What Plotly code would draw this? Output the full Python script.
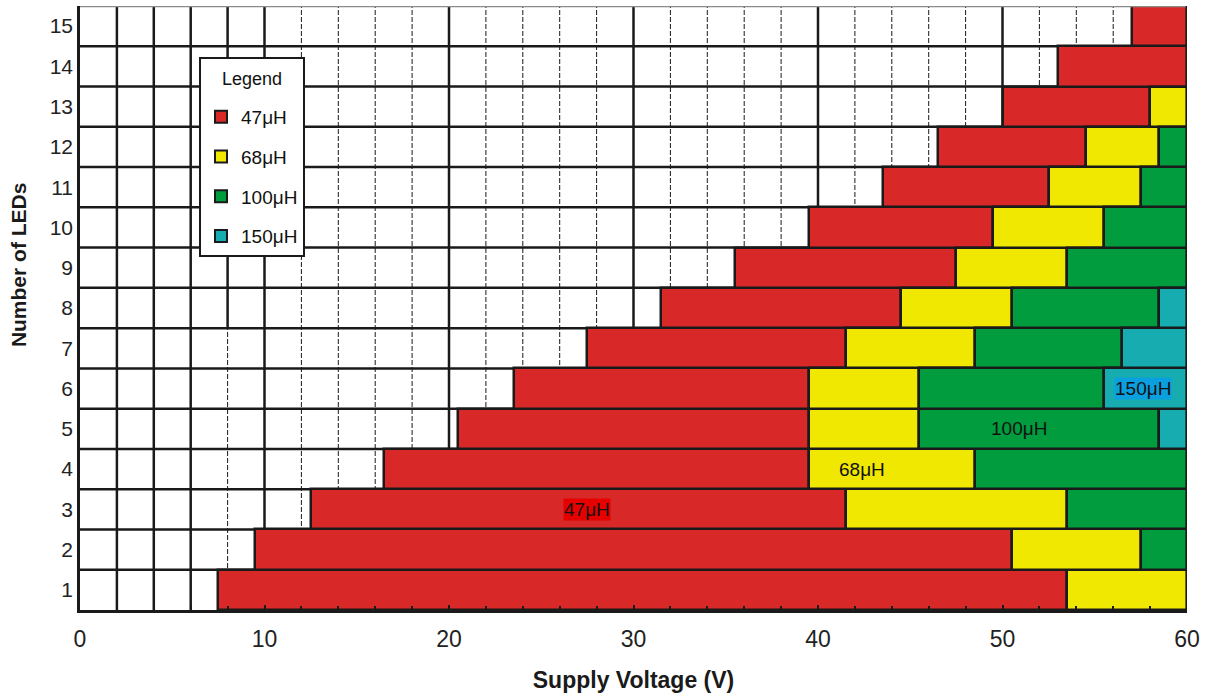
import plotly.graph_objects as go

# ---------------- data ----------------
leds = list(range(1, 16))

# 47uH region (red): start / end voltage for each LED count
red_rows = list(range(1, 16))
red_from = [7.5, 9.5, 12.5, 16.5, 20.5, 23.5, 27.5, 31.5, 35.5, 39.5, 43.5, 46.5, 50, 53, 57]
red_to = [53.5, 50.5, 41.5, 39.5, 39.5, 39.5, 41.5, 44.5, 47.5, 49.5, 52.5, 54.5, 58, 60, 60]

# 68uH region (yellow)
yellow_rows = list(range(1, 14))
yellow_from = [53.5, 50.5, 41.5, 39.5, 39.5, 39.5, 41.5, 44.5, 47.5, 49.5, 52.5, 54.5, 58]
yellow_to = [60, 57.5, 53.5, 48.5, 45.5, 45.5, 48.5, 50.5, 53.5, 55.5, 57.5, 58.5, 60]

# 100uH region (green)
green_rows = list(range(2, 13))
green_from = [57.5, 53.5, 48.5, 45.5, 45.5, 48.5, 50.5, 53.5, 55.5, 57.5, 58.5]
green_to = [60, 60, 60, 58.5, 55.5, 56.5, 58.5, 60, 60, 60, 60]

# 150uH region (teal)
teal_rows = [5, 6, 7, 8]
teal_from = [58.5, 55.5, 56.5, 58.5]
teal_to = [60, 60, 60, 60]

series_names = ["47μH", "68μH", "100μH", "150μH"]
series_colors = ["#d92828", "#f0e800", "#009c3d", "#17adb0"]

x_ticks = [0, 10, 20, 30, 40, 50, 60]
x_grid = list(range(2, 60, 2))
y_edges = [v + 0.5 for v in range(0, 16)]

# in-chart labels: (x, y, text, background)
label_x = [27.5, 42.4, 50.9, 57.6]
label_y = [3, 4, 5, 6]
label_bg = ["#e60000", "rgba(0,0,0,0)", "rgba(0,0,0,0)", "#0aa0e0"]

FONT = "Liberation Sans, Arial, sans-serif"

fig = go.Figure()

all_series = [
    (red_rows, red_from, red_to),
    (yellow_rows, yellow_from, yellow_to),
    (green_rows, green_from, green_to),
    (teal_rows, teal_from, teal_to),
]
for i, (rows, s, e) in enumerate(all_series):
    fig.add_trace(go.Bar(
        y=rows,
        x=[b - a for a, b in zip(s, e)],
        base=s,
        orientation="h",
        width=1,
        name=series_names[i],
        legendgroup=series_names[i],
        marker=dict(color=series_colors[i], line=dict(color="#1a1a1a", width=2.5)),
    ))

DASH = "5px,2px"
# grid lines (drawn below the bars)
shapes = []
for gx in x_grid:
    if gx % 10 == 0 or gx < 8:
        shapes.append(dict(type="line", xref="x", yref="y", x0=gx, x1=gx, y0=0.5, y1=15.5,
                           line=dict(color="#1a1a1a", width=2.5), layer="below"))
    elif gx == 8:
        shapes.append(dict(type="line", xref="x", yref="y", x0=gx, x1=gx, y0=7.5, y1=15.5,
                           line=dict(color="#1a1a1a", width=2.5), layer="below"))
        shapes.append(dict(type="line", xref="x", yref="y", x0=gx, x1=gx, y0=0.5, y1=7.5,
                           line=dict(color="#1a1a1a", width=1, dash=DASH), layer="below"))
    else:
        shapes.append(dict(type="line", xref="x", yref="y", x0=gx, x1=gx, y0=0.5, y1=15.5,
                           line=dict(color="#1a1a1a", width=1, dash=DASH), layer="below"))
for gy in y_edges[1:-1]:
    shapes.append(dict(type="line", xref="x", yref="y", x0=0, x1=60, y0=gy, y1=gy,
                       line=dict(color="#1a1a1a", width=2.5), layer="below"))
# frame: gray top, dark right
shapes.append(dict(type="line", xref="x", yref="y", x0=0, x1=60, y0=15.5, y1=15.5,
                   line=dict(color="#8a8a8a", width=2.5), layer="above"))
shapes.append(dict(type="line", xref="x", yref="y", x0=60, x1=60, y0=0.5, y1=15.5,
                   line=dict(color="#1a1a1a", width=2.5), layer="above"))

annotations = []
for lx, ly, txt, bg in zip(label_x, label_y, series_names, label_bg):
    annotations.append(dict(x=lx, y=ly, xref="x", yref="y", text=txt, showarrow=False,
                            font=dict(family=FONT, size=19, color="#111"),
                            bgcolor=bg, borderpad=0))
annotations.append(dict(x=-0.056, y=0.571, xref="paper", yref="paper",
                        text="<b>Number of LEDs</b>", textangle=-90, showarrow=False,
                        font=dict(family=FONT, size=21, color="#1a1a1a"),
                        xanchor="center", yanchor="middle"))

fig.update_layout(
    width=1216, height=698,
    margin=dict(l=80, r=29, t=6, b=88),
    paper_bgcolor="white", plot_bgcolor="white",
    barmode="overlay",
    bargap=0,
    shapes=shapes,
    annotations=annotations,
    font=dict(family=FONT, color="#222"),
    showlegend=True,
    legend=dict(
        x=(199 - 80) / 1107, y=(610 - 57) / 604, xanchor="left", yanchor="top",
        bgcolor="white", bordercolor="#1a1a1a", borderwidth=2,
        font=dict(family=FONT, size=19, color="#111"),
        title=dict(text=" <br><span style='font-size:18px'>Legend</span><br> ", side="top center",
                   font=dict(family=FONT, size=10, color="#111")),
        tracegroupgap=12, itemsizing="constant",
    ),
    xaxis=dict(
        range=[0, 60], tickvals=x_ticks, ticks="inside", ticklen=5, tickwidth=2,
        tickcolor="#1a1a1a",
        minor=dict(dtick=2, ticks="inside", ticklen=4, tickwidth=1.5, tickcolor="#1a1a1a"),
        showgrid=False, zeroline=False,
        showline=True, linecolor="#1a1a1a", linewidth=3, mirror=False,
        tickfont=dict(family=FONT, size=23, color="#222"),
        ticklabelstandoff=6,
        title=dict(text="<b>Supply Voltage (V)</b>", font=dict(family=FONT, size=23, color="#1a1a1a"),
                   standoff=22),
        fixedrange=True,
    ),
    yaxis=dict(
        range=[0.5, 15.5], tickvals=leds, ticks="", showgrid=False, zeroline=False,
        showline=True, linecolor="#1a1a1a", linewidth=2.5,
        tickfont=dict(family=FONT, size=21, color="#222"),
        fixedrange=True,
    ),
)

fig.write_html("out.html", config={"displayModeBar": False},
               post_script="document.body.style.margin='0';")
